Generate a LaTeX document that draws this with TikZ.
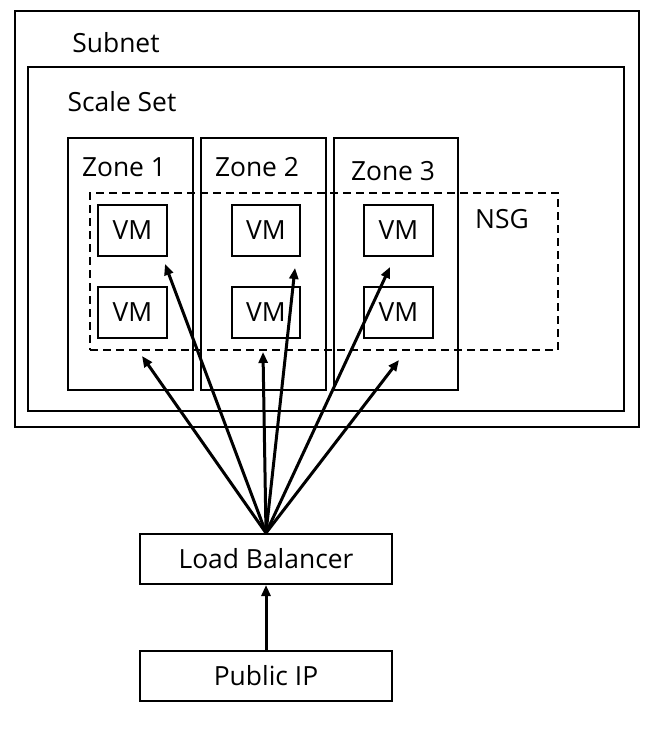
\documentclass[tikz,border=0pt]{standalone}
\usepackage{fontspec}
\setmainfont{Open Sans}
\usetikzlibrary{fit,arrows.meta}
\begin{document}
\begin{tikzpicture}[x=1bp,y=-1bp,
  box/.style={draw, line width=2bp, inner sep=0pt},
  dbox/.style={draw, line width=1.8bp, inner sep=0pt, dash pattern=on 8bp off 5bp},
  lbl/.style={font=\fontsize{26.5}{28}\selectfont, inner sep=0pt},
  arr/.style={line width=3bp, -{Triangle[length=11bp,width=9bp]}}]
\useasboundingbox (0,0) rectangle (653,736);
% containers
\node[box, fit={(15,11)(639,427)}] (subnet) {};
\node[lbl] (subnetl) at (116,43) {Subnet};
\node[box, fit={(28,67)(624,411)}] (scaleset) {};
\node[lbl] (scalesetl) at (122,102) {Scale Set};
\node[box, fit={(68,138)(193,390)}] (z1) {};
\node[box, fit={(201,138)(326,390)}] (z2) {};
\node[box, fit={(334,138)(458,390)}] (z3) {};
\node[lbl] (z1l) at (124,167) {Zone 1};
\node[lbl] (z2l) at (257,167) {Zone 2};
\node[lbl] (z3l) at (393,171) {Zone 3};
\node[dbox, fit={(90,193)(558,350)}] (nsg) {};
\node[lbl] (nsgl) at (502,219) {NSG};
% VMs
\node[box, fit={(98,205)(167,256)}] (vm1a) {};
\node[box, fit={(98,287)(167,338)}] (vm1b) {};
\node[box, fit={(232,205)(300,256)}] (vm2a) {};
\node[box, fit={(232,287)(300,338)}] (vm2b) {};
\node[box, fit={(364,205)(433,256)}] (vm3a) {};
\node[box, fit={(364,287)(433,338)}] (vm3b) {};
\foreach \n in {vm1a,vm1b,vm2a,vm2b,vm3a,vm3b}{\node[lbl] at (\n) {VM};}
% bottom
\node[box, fit={(140,534)(392,584)}] (lb) {};
\node[lbl] at (lb) {Load Balancer};
\node[box, fit={(140,651)(392,701)}] (pip) {};
\node[lbl] at (pip) {Public IP};
% arrow targets
\coordinate (t1) at (142,356);
\coordinate (t2) at (165,264);
\coordinate (t3) at (263,352);
\coordinate (t4) at (295,268);
\coordinate (t5) at (390,267);
\coordinate (t6) at (399,360);
\foreach \t in {t1,t2,t3,t4,t5,t6}{\draw[arr] (lb.north) -- (\t);}
\draw[arr] (pip.north) -- (lb.south);
\end{tikzpicture}
\end{document}
